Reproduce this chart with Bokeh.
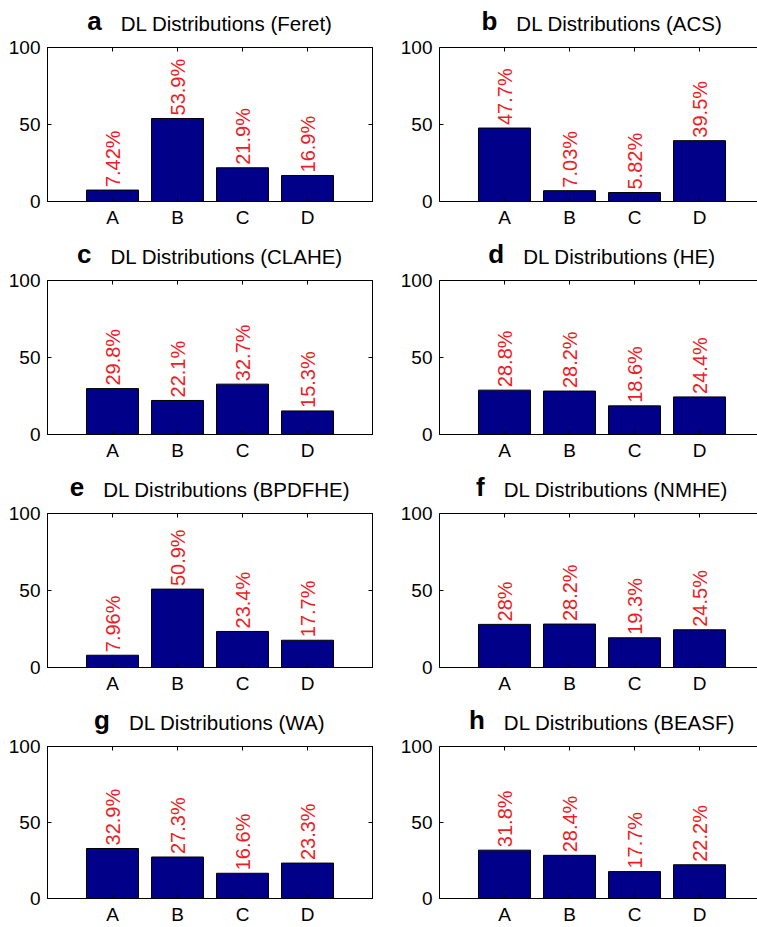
import numpy as np
from bokeh.plotting import figure
from bokeh.models import Range1d, LinearAxis, FixedTicker
from bokeh.layouts import column, row
from bokeh.embed import file_html
from bokeh.resources import INLINE
from bokeh.core.properties import value

# ---------------- data ----------------
categories = ["A", "B", "C", "D"]
panel_letters = ["a", "b", "c", "d", "e", "f", "g", "h"]
methods = ["Feret", "ACS", "CLAHE", "HE", "BPDFHE", "NMHE", "WA", "BEASF"]
feret = [7.42, 53.9, 21.9, 16.9]
acs = [47.7, 7.03, 5.82, 39.5]
clahe = [29.8, 22.1, 32.7, 15.3]
he = [28.8, 28.2, 18.6, 24.4]
bpdfhe = [7.96, 50.9, 23.4, 17.7]
nmhe = [28.0, 28.2, 19.3, 24.5]
wa = [32.9, 27.3, 16.6, 23.3]
beasf = [31.8, 28.4, 17.7, 22.2]
series = [feret, acs, clahe, he, bpdfhe, nmhe, wa, beasf]
y_ticks = [0, 50, 100]

# ---------------- style ----------------
FONT = "Liberation Sans"
BAR = "#000088"
RED = "#ee1c24"
FRAME_W = 325
FRAME_H = 154
TITLE_H = 36
AXIS_TOP = 11

# Arial / Liberation Sans advance widths (1/1000 em) to centre the composite title
W_REG = {"A": 667, "B": 667, "C": 722, "D": 722, "E": 667, "F": 611, "H": 722,
         "L": 556, "M": 833, "N": 722, "P": 667, "S": 667, "W": 944, "a": 556,
         "b": 556, "e": 556, "i": 222, "n": 556, "o": 556, "r": 333, "s": 500,
         "t": 278, "u": 556, " ": 278, "(": 333, ")": 333}
W_BOLD = {"a": 556, "b": 611, "c": 556, "d": 611, "e": 556, "f": 333, "g": 611, "h": 611}
TITLE_PX = 20.5
LETTER_PX = 26
GAP_PX = 19
BASELINE_FROM_TOP = 30          # title baseline, px below the top of the panel
MID = (0.905 - 0.212) / 2       # em-box middle above the baseline (Liberation Sans)


def text_width(s, table, size):
    return sum(table.get(ch, 556) for ch in s) / 1000.0 * size


def make_panel(idx):
    col = idx % 2
    rowi = idx // 2
    left = col == 0
    fw = FRAME_W if left else 318
    mbl = 47 if left else 59
    mbr = 8 if left else 0
    width = mbl + fw + mbr
    mbb = 32 if rowi < 3 else 27
    px2data = 5.0 / FRAME_W
    xend = fw * px2data

    # ---- title strip (bold panel letter + regular title), centred over the frame
    t = figure(width=width, height=TITLE_H, title=None,
               x_range=Range1d(0, xend), y_range=Range1d(0, TITLE_H),
               output_backend="svg", toolbar_location=None,
               min_border_left=mbl, min_border_right=mbr, min_border_top=0, min_border_bottom=0,
               x_axis_location=None, y_axis_location=None)
    t.outline_line_color = None
    t.xgrid.visible = False
    t.ygrid.visible = False
    title = f"DL Distributions ({methods[idx]})"
    wl = text_width(panel_letters[idx], W_BOLD, LETTER_PX)
    wt = text_width(title, W_REG, TITLE_PX)
    total = wl + GAP_PX + wt
    x0 = 2.5 - total / 2.0 * px2data
    y_letter = TITLE_H - BASELINE_FROM_TOP + MID * LETTER_PX
    y_title = TITLE_H - BASELINE_FROM_TOP + MID * TITLE_PX
    t.text(x=[x0], y=[y_letter], text=[panel_letters[idx]], text_font=value(FONT),
           text_font_style="bold", text_font_size=f"{LETTER_PX}px", text_align="left",
           text_baseline="middle", text_color="black")
    t.text(x=[x0 + (wl + GAP_PX) * px2data], y=[y_title], text=[title], text_font=value(FONT),
           text_font_size=f"{TITLE_PX}px", text_align="left",
           text_baseline="middle", text_color="black")

    # ---- bar chart
    p = figure(width=width, height=AXIS_TOP + FRAME_H + mbb, title=None,
               x_range=Range1d(0, xend), y_range=Range1d(0, 100),
               output_backend="svg", toolbar_location=None,
               min_border_left=mbl, min_border_right=mbr,
               min_border_top=AXIS_TOP, min_border_bottom=mbb)
    p.background_fill_color = "white"
    p.border_fill_color = "white"
    p.xgrid.visible = False
    p.ygrid.visible = False
    if left:
        p.outline_line_color = "black"
        p.outline_line_width = 1
        p.outline_line_alpha = 1
    else:
        p.outline_line_color = None

    xs = list(range(1, len(categories) + 1))
    vals = series[idx]

    xa = p.xaxis[0]
    xa.ticker = FixedTicker(ticks=xs)
    xa.major_label_overrides = {x: c for x, c in zip(xs, categories)}
    ya = p.yaxis[0]
    ya.ticker = FixedTicker(ticks=y_ticks)
    for ax in (xa, ya):
        ax.major_tick_in = 4
        ax.major_tick_out = 0
        ax.minor_tick_in = 0
        ax.minor_tick_out = 0
        ax.axis_line_color = "black"
        ax.major_tick_line_color = "black"
        ax.major_label_text_font = FONT
        ax.major_label_text_font_size = "19px"
        ax.major_label_text_color = "black"
    xa.major_label_standoff = 5
    ya.major_label_standoff = 7

    top_ax = LinearAxis(ticker=FixedTicker(ticks=xs), major_label_text_font_size="0px",
                        major_tick_in=4, major_tick_out=0, minor_tick_in=0, minor_tick_out=0,
                        major_label_standoff=0, axis_line_color="black")
    top_ax.major_label_overrides = {x: "" for x in xs}
    p.add_layout(top_ax, "above")
    if left:
        right_ax = LinearAxis(ticker=FixedTicker(ticks=y_ticks), major_label_text_font_size="0px",
                              major_tick_in=4, major_tick_out=0, minor_tick_in=0, minor_tick_out=0,
                              major_label_standoff=0, axis_line_color="black")
        right_ax.major_label_overrides = {tk: "" for tk in y_ticks}
        p.add_layout(right_ax, "right")

    p.vbar(x=xs, top=vals, width=0.8, bottom=0, fill_color=BAR, line_color="black", line_width=1)

    labels = [f"{v:.3g}%" for v in vals]
    p.text(x=xs, y=vals, text=labels, angle=np.pi / 2, text_align="left",
           text_baseline="middle", text_color=RED, text_font=value(FONT),
           text_font_size="20px", y_offset=-3)
    return column(t, p, spacing=0)


panels = [make_panel(i) for i in range(8)]
layout = column(*[row(panels[2 * r], panels[2 * r + 1], spacing=0) for r in range(4)], spacing=0)

with open("out.html", "w") as f:
    f.write(file_html(layout, INLINE))
